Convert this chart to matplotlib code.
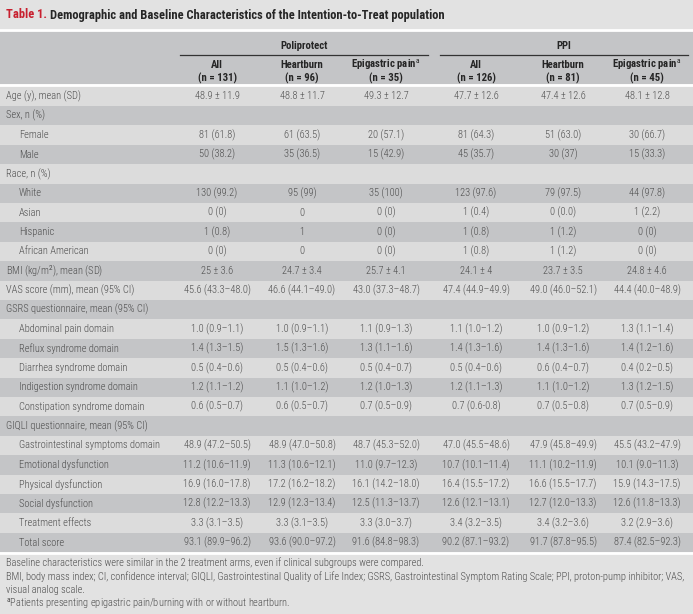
import matplotlib
matplotlib.use("Agg")
import matplotlib.pyplot as plt
from matplotlib import font_manager

# condensed sans if installed, else a regular one
names = {f.name for f in font_manager.fontManager.ttflist}
FONT = "Liberation Sans"
for cand in ["Roboto Condensed", "Fira Sans Condensed", "Liberation Sans Narrow"]:
    if cand in names:
        FONT = cand
        break

plt.rcParams["font.family"] = [FONT, "DejaVu Sans"]
plt.rcParams["mathtext.fontset"] = "custom"
plt.rcParams["mathtext.rm"] = FONT
plt.rcParams["mathtext.it"] = FONT
plt.rcParams["mathtext.bf"] = FONT + ":bold"

title_num = "Table 1."
title_text = "Demographic and Baseline Characteristics of the Intention-to-Treat population"

groups = ["Poliprotect", "PPI"]
subgroups = ["All", "Heartburn", "Epigastric pain$^{\\rm a}$",
             "All", "Heartburn", "Epigastric pain$^{\\rm a}$"]
subgroup_n = ["(n = 131)", "(n = 96)", "(n = 35)", "(n = 126)", "(n = 81)", "(n = 45)"]

labels = ["Age (y), mean (SD)", "Sex, n (%)", "Female", "Male", "Race, n (%)",
          "White", "Asian", "Hispanic", "African American",
          "BMI (kg/m$^{2}$), mean (SD)", "VAS score (mm), mean (95% CI)",
          "GSRS questionnaire, mean (95% CI)", "Abdominal pain domain",
          "Reflux syndrome domain", "Diarrhea syndrome domain",
          "Indigestion syndrome domain", "Constipation syndrome domain",
          "GIQLI questionnaire, mean (95% CI)", "Gastrointestinal symptoms domain",
          "Emotional dysfunction", "Physical dysfunction", "Social dysfunction",
          "Treatment effects", "Total score"]
indent = [0, 0, 1, 1, 0, 1, 1, 1, 1, 0, 0, 0, 1, 1, 1, 1, 1, 0, 1, 1, 1, 1, 1, 1]

poli_all = ["48.9 ± 11.9", "", "81 (61.8)", "50 (38.2)", "", "130 (99.2)", "0 (0)",
            "1 (0.8)", "0 (0)", "25 ± 3.6", "45.6 (43.3–48.0)", "", "1.0 (0.9–1.1)",
            "1.4 (1.3–1.5)", "0.5 (0.4–0.6)", "1.2 (1.1–1.2)", "0.6 (0.5–0.7)", "",
            "48.9 (47.2–50.5)", "11.2 (10.6–11.9)", "16.9 (16.0–17.8)",
            "12.8 (12.2–13.3)", "3.3 (3.1–3.5)", "93.1 (89.9–96.2)"]
poli_hb = ["48.8 ± 11.7", "", "61 (63.5)", "35 (36.5)", "", "95 (99)", "0", "1", "0",
           "24.7 ± 3.4", "46.6 (44.1–49.0)", "", "1.0 (0.9–1.1)", "1.5 (1.3–1.6)",
           "0.5 (0.4–0.6)", "1.1 (1.0–1.2)", "0.6 (0.5–0.7)", "",
           "48.9 (47.0–50.8)", "11.3 (10.6–12.1)", "17.2 (16.2–18.2)",
           "12.9 (12.3–13.4)", "3.3 (3.1–3.5)", "93.6 (90.0–97.2)"]
poli_ep = ["49.3 ± 12.7", "", "20 (57.1)", "15 (42.9)", "", "35 (100)", "0 (0)",
           "0 (0)", "0 (0)", "25.7 ± 4.1", "43.0 (37.3–48.7)", "", "1.1 (0.9–1.3)",
           "1.3 (1.1–1.6)", "0.5 (0.4–0.7)", "1.2 (1.0–1.3)", "0.7 (0.5–0.9)", "",
           "48.7 (45.3–52.0)", "11.0 (9.7–12.3)", "16.1 (14.2–18.0)",
           "12.5 (11.3–13.7)", "3.3 (3.0–3.7)", "91.6 (84.8–98.3)"]
ppi_all = ["47.7 ± 12.6", "", "81 (64.3)", "45 (35.7)", "", "123 (97.6)", "1 (0.4)",
           "1 (0.8)", "1 (0.8)", "24.1 ± 4", "47.4 (44.9–49.9)", "", "1.1 (1.0–1.2)",
           "1.4 (1.3–1.6)", "0.5 (0.4–0.6)", "1.2 (1.1–1.3)", "0.7 (0.6-0.8)", "",
           "47.0 (45.5–48.6)", "10.7 (10.1–11.4)", "16.4 (15.5–17.2)",
           "12.6 (12.1–13.1)", "3.4 (3.2–3.5)", "90.2 (87.1–93.2)"]
ppi_hb = ["47.4 ± 12.6", "", "51 (63.0)", "30 (37)", "", "79 (97.5)", "0 (0.0)",
          "1 (1.2)", "1 (1.2)", "23.7 ± 3.5", "49.0 (46.0–52.1)", "", "1.0 (0.9–1.2)",
          "1.4 (1.3–1.6)", "0.6 (0.4–0.7)", "1.1 (1.0–1.2)", "0.7 (0.5–0.8)", "",
          "47.9 (45.8–49.9)", "11.1 (10.2–11.9)", "16.6 (15.5–17.7)",
          "12.7 (12.0–13.3)", "3.4 (3.2–3.6)", "91.7 (87.8–95.5)"]
ppi_ep = ["48.1 ± 12.8", "", "30 (66.7)", "15 (33.3)", "", "44 (97.8)", "1 (2.2)",
          "0 (0)", "0 (0)", "24.8 ± 4.6", "44.4 (40.0–48.9)", "", "1.3 (1.1–1.4)",
          "1.4 (1.2–1.6)", "0.4 (0.2–0.5)", "1.3 (1.2–1.5)", "0.7 (0.5–0.9)", "",
          "45.5 (43.2–47.9)", "10.1 (9.0–11.3)", "15.9 (14.3–17.5)",
          "12.6 (11.8–13.3)", "3.2 (2.9–3.6)", "87.4 (82.5–92.3)"]
columns = [poli_all, poli_hb, poli_ep, ppi_all, ppi_hb, ppi_ep]

footnotes = [
    "Baseline characteristics were similar in the 2 treatment arms, even if clinical subgroups were compared.",
    "BMI, body mass index; CI, confidence interval; GIQLI, Gastrointestinal Quality of Life Index; "
    "GSRS, Gastrointestinal Symptom Rating Scale; PPI, proton-pump inhibitor; VAS,",
    "visual analog scale.",
    "$^{\\rm a}$Patients presenting epigastric pain/burning with or without heartburn.",
]

# layout in pixels
W, H = 693, 614
col_x = [217, 302, 386, 476, 563, 647]
group_x = [(180, 428), (440, 688)]
row_h = 19.4
row0 = 96.3
BG = "#e2e2e2"
LIGHT = "#dcdcdc"
DARK = "#c4c5c7"
TXT = "#4d4d4d"
HEAD = "#262626"

fig = plt.figure(figsize=(W / 100, H / 100), dpi=100)
fig.patch.set_facecolor(BG)
ax = fig.add_axes([0, 0, 1, 1])
ax.set_xlim(0, W)
ax.set_ylim(H, 0)
ax.axis("off")
renderer = fig.canvas.get_renderer()


def fit_size(s, target_px, **kw):
    # font size (pt) that makes s about target_px wide
    t = ax.text(0, 0, s, fontsize=10, **kw)
    w = t.get_window_extent(renderer).width
    t.remove()
    return 10 * target_px / w


fs_body = fit_size("Gastrointestinal symptoms domain", 142, fontweight="light")
fs_head = fit_size("Epigastric pain", 64, fontweight="bold")
fs_title = fit_size(title_num + " " + title_text, 437, fontweight="bold")
fs_foot = fit_size(footnotes[1], 676, fontweight="light")

# title
t = ax.text(6, 15, title_num + " ", color="#c8202f", fontsize=fs_title,
            fontweight="bold", va="center")
bb = t.get_window_extent(renderer)
x_title = ax.transData.inverted().transform((bb.x1, 0))[0]
ax.text(x_title, 15, title_text, color=HEAD, fontsize=fs_title,
        fontweight="bold", va="center")

# header band and rows
ax.barh(57, W, height=54, left=0, color=DARK, edgecolor="none")
ys = [row0 + i * row_h for i in range(len(labels))]
row_colors = [LIGHT if i % 2 == 0 else DARK for i in range(len(labels))]
ax.barh(ys, W, height=row_h, left=0, color=row_colors, edgecolor="none")
for y in (29.5, 85.3, ys[-1] + row_h / 2 + 0.5):
    ax.axhline(y, color="white", lw=2)

# header text
for g, (x0, x1) in zip(groups, group_x):
    ax.text((x0 + x1) / 2, 46, g, ha="center", va="center", fontsize=fs_head,
            fontweight="bold", color=HEAD)
    ax.plot([x0, x1], [55, 55], color="#333333", lw=0.9)
for x, s, n in zip(col_x, subgroups, subgroup_n):
    ax.text(x, 65, s, ha="center", va="center", fontsize=fs_head,
            fontweight="bold", color=HEAD)
    ax.text(x, 78, n, ha="center", va="center", fontsize=fs_head,
            fontweight="bold", color=HEAD)

# body
for i, (lab, ind) in enumerate(zip(labels, indent)):
    ax.text(6 + 13 * ind, ys[i], lab, ha="left", va="center", fontsize=fs_body,
            fontweight="light", color=TXT)
    for x, col in zip(col_x, columns):
        if col[i]:
            ax.text(x, ys[i], col[i], ha="center", va="center", fontsize=fs_body,
                    fontweight="light", color=TXT)

# footnotes
for k, line in enumerate(footnotes):
    ax.text(6, 563 + k * 13.6, line, ha="left", va="center",
            fontsize=fs_foot, fontweight="light", color=TXT)

fig.savefig("out.png", dpi=100, facecolor=BG)
